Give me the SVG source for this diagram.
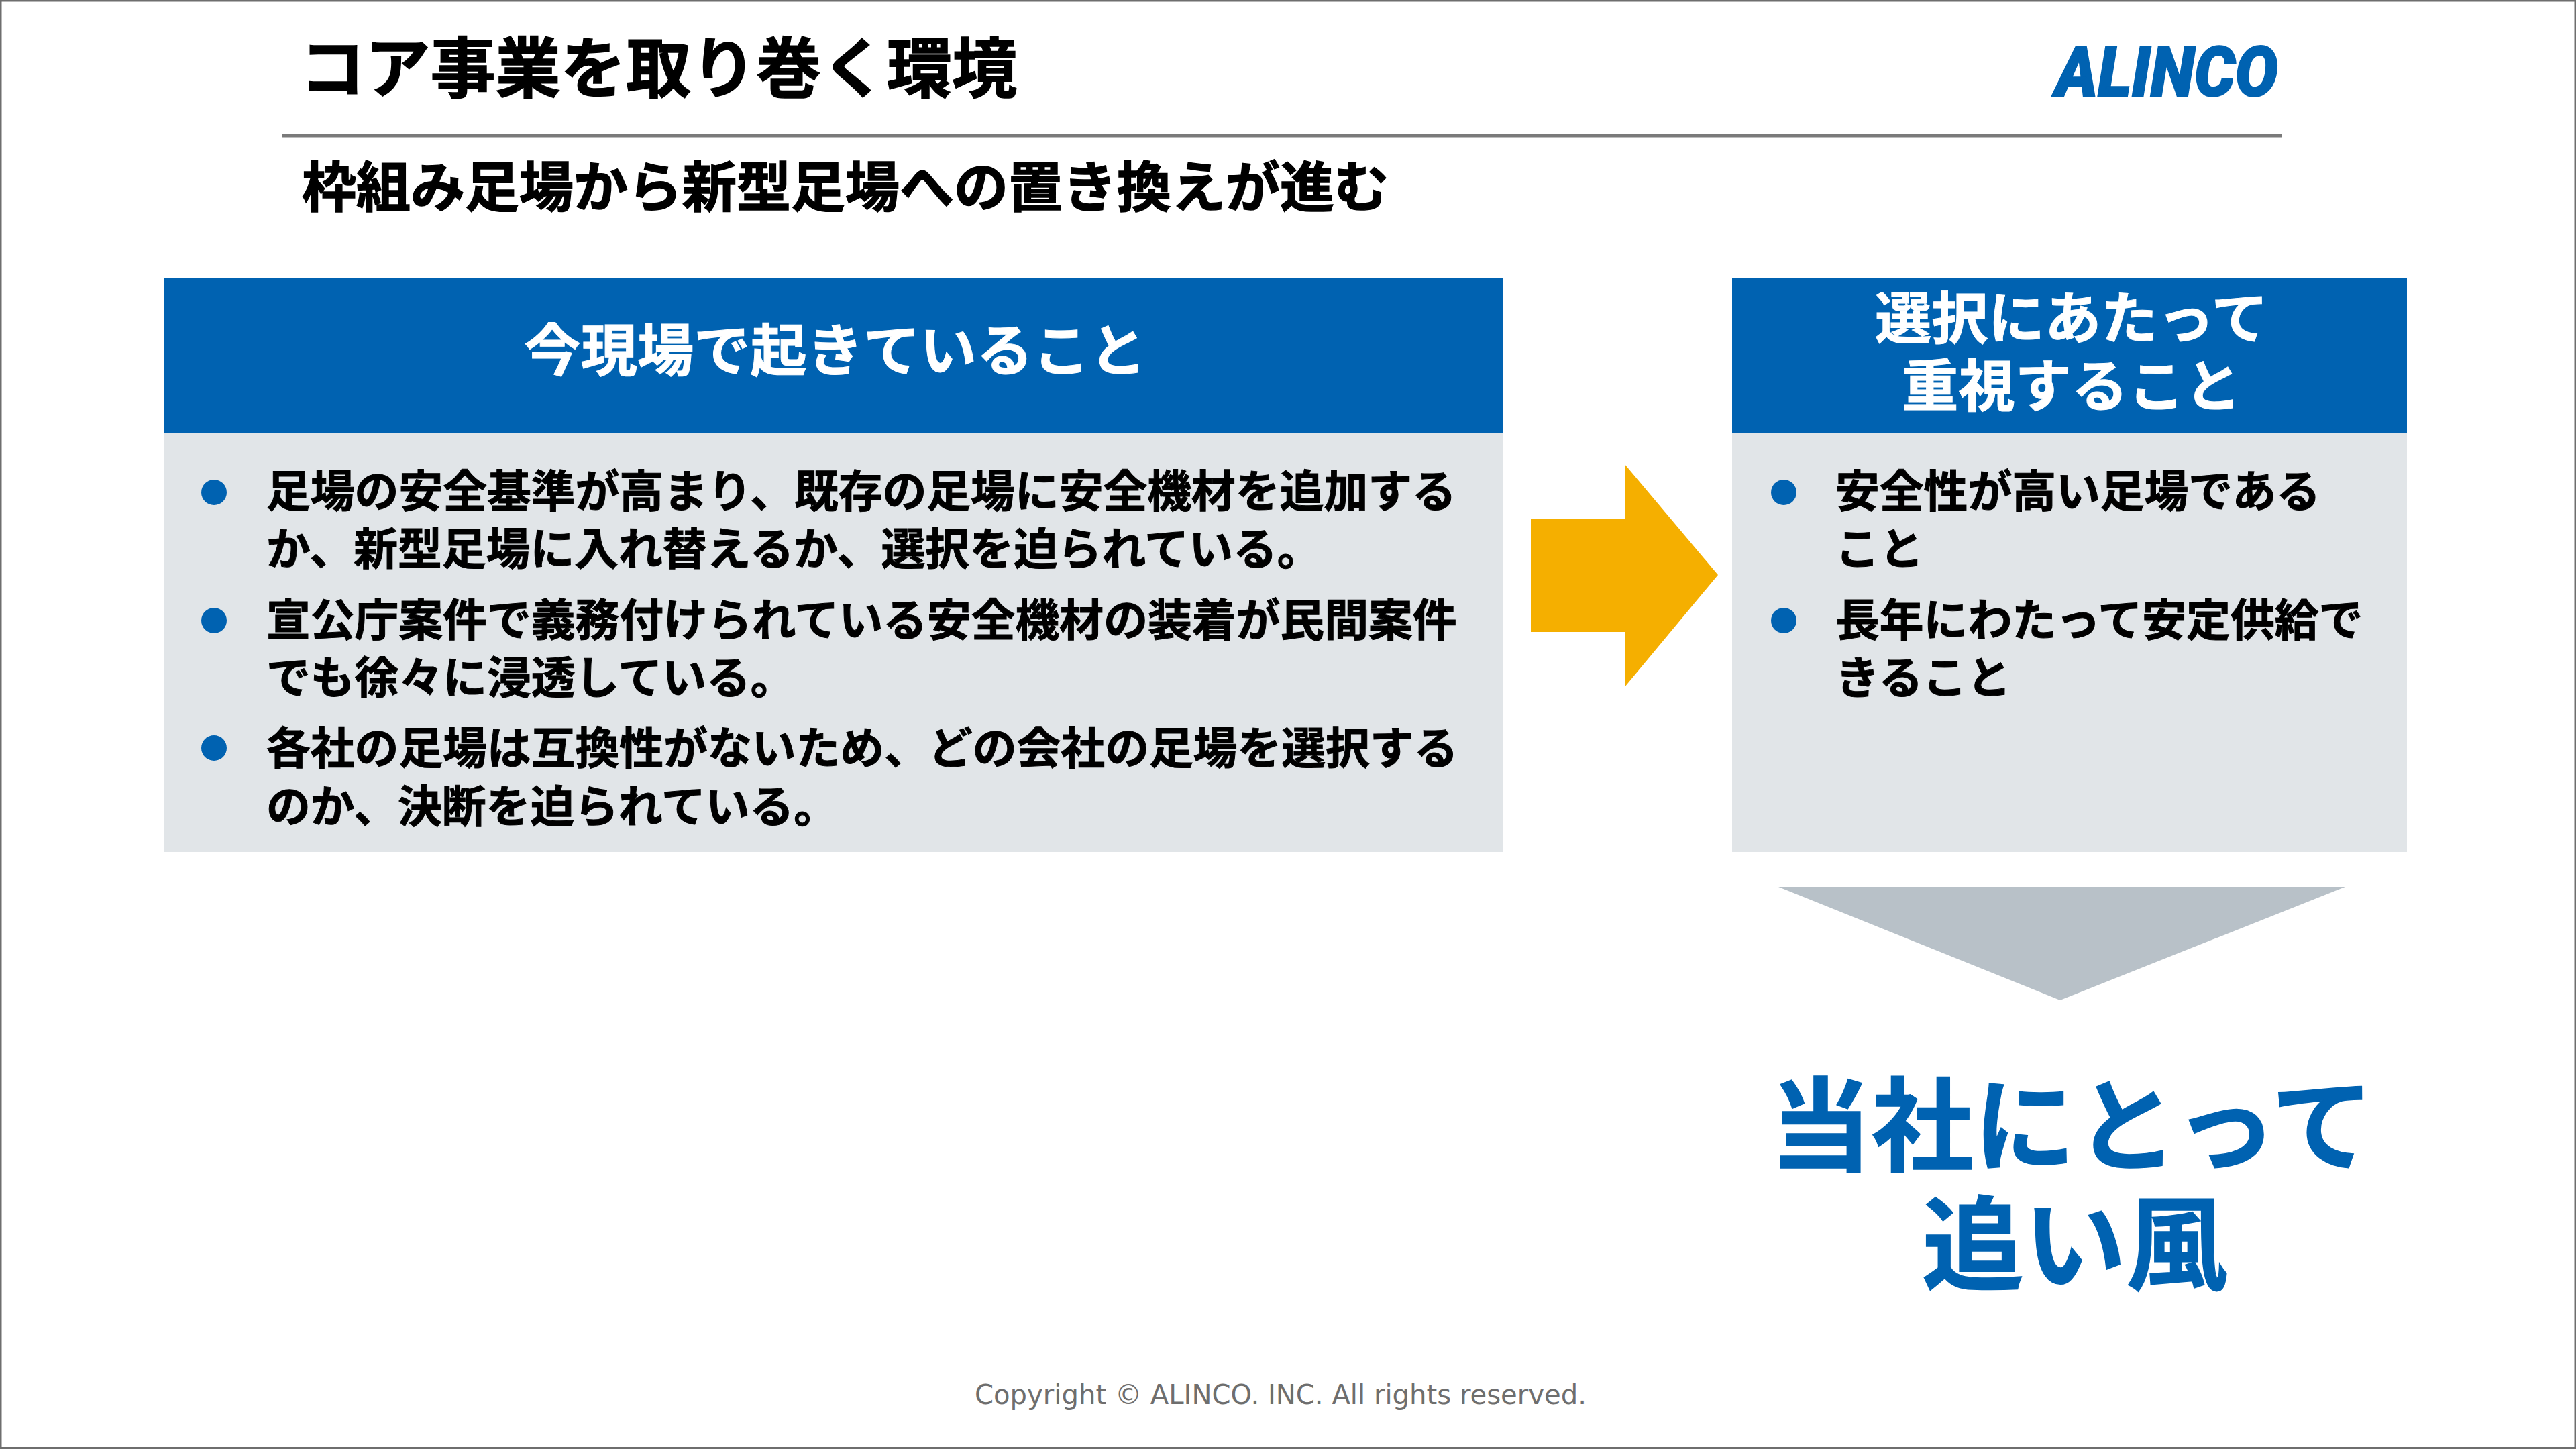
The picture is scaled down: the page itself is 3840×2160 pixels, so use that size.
<svg xmlns="http://www.w3.org/2000/svg" width="3840" height="2160" viewBox="0 0 3840 2160">
<style>
text{font-family:"Noto Sans CJK JP","Noto Sans",sans-serif;font-weight:700}
.head{fill:#0062b1}.panel{fill:#e1e5e8}.dot{fill:#0062b1}
.b{font-size:65.8px;fill:#000;stroke:#000;stroke-width:1}
.h{font-size:84.3px;fill:#fff;stroke:#fff;stroke-width:1;text-anchor:middle}
.big{font-size:152px;fill:#0062b1;stroke:#0062b1;stroke-width:1.500;text-anchor:middle}
.t{fill:#000;stroke:#000;stroke-width:1.500}
</style>
<rect width="3840" height="2160" fill="#fff"/>
<g id="frame"><rect x="1" y="1" width="3838" height="2157.500" fill="none" stroke="#6e6e6e" stroke-width="3"/></g>
<g id="title">
<text class="t" x="447" y="137" font-size="97.2">コア事業を取り巻く環境</text>
<rect x="420" y="200" width="2981" height="4.500" fill="#7a7a7a"/>
<text class="t" x="450" y="308" font-size="81">枠組み足場から新型足場への置き換えが進む</text>
</g>
<g id="logo"><text x="3064" y="143" font-size="103" fill="#0062b1" stroke="#0062b1" stroke-width="2" style="font-family:Roboto,'Liberation Sans',sans-serif;font-weight:900;font-style:italic" textLength="332" lengthAdjust="spacingAndGlyphs">ALINCO</text></g>
<g id="now">
<rect class="head" x="245" y="415" width="1996" height="230"/>
<rect class="panel" x="245" y="645" width="1996" height="625"/>
<text class="h" x="1245" y="553">今現場で起きていること</text>
<ellipse class="dot" cx="319" cy="734" rx="19" ry="19"/>
<ellipse class="dot" cx="319" cy="925" rx="19" ry="19"/>
<ellipse class="dot" cx="319" cy="1115" rx="19" ry="19"/>
<text class="b" x="397" y="756">足場の安全基準が高まり、既存の足場に安全機材を追加する</text>
<text class="b" x="397" y="842">か、新型足場に入れ替えるか、選択を迫られている。</text>
<text class="b" x="397" y="948">宣公庁案件で義務付けられている安全機材の装着が民間案件</text>
<text class="b" x="397" y="1034">でも徐々に浸透している。</text>
<text class="b" x="397" y="1139">各社の足場は互換性がないため、どの会社の足場を選択する</text>
<text class="b" x="397" y="1226">のか、決断を迫られている。</text>
</g>
<g id="focus">
<rect class="head" x="2582" y="415" width="1006" height="230"/>
<rect class="panel" x="2582" y="645" width="1006" height="625"/>
<text class="h" x="3088" y="505">選択にあたって</text>
<text class="h" x="3088" y="606">重視すること</text>
<ellipse class="dot" cx="2659" cy="734" rx="19" ry="19"/>
<ellipse class="dot" cx="2659" cy="925" rx="19" ry="19"/>
<text class="b" x="2736" y="756">安全性が高い足場である</text>
<text class="b" x="2736" y="842">こと</text>
<text class="b" x="2736" y="948">長年にわたって安定供給で</text>
<text class="b" x="2736" y="1034">きること</text>
</g>
<g id="connectors">
<polygon points="2282,774 2422,774 2422,692 2561,857 2422,1024 2422,942 2282,942" fill="#f5af00"/>
<polygon points="2651,1322 3496,1322 3071,1491" fill="#b8c1c8"/>
</g>
<g id="result">
<text class="big" x="3088" y="1734">当社にとって</text>
<text class="big" x="3093" y="1911">追い風</text>
</g>
<g id="footer"><text x="1453" y="2093" font-size="40" fill="#6e6e6e" style="font-family:'DejaVu Sans',sans-serif;font-weight:400" textLength="912" lengthAdjust="spacingAndGlyphs">Copyright © ALINCO. INC. All rights reserved.</text></g>
</svg>
